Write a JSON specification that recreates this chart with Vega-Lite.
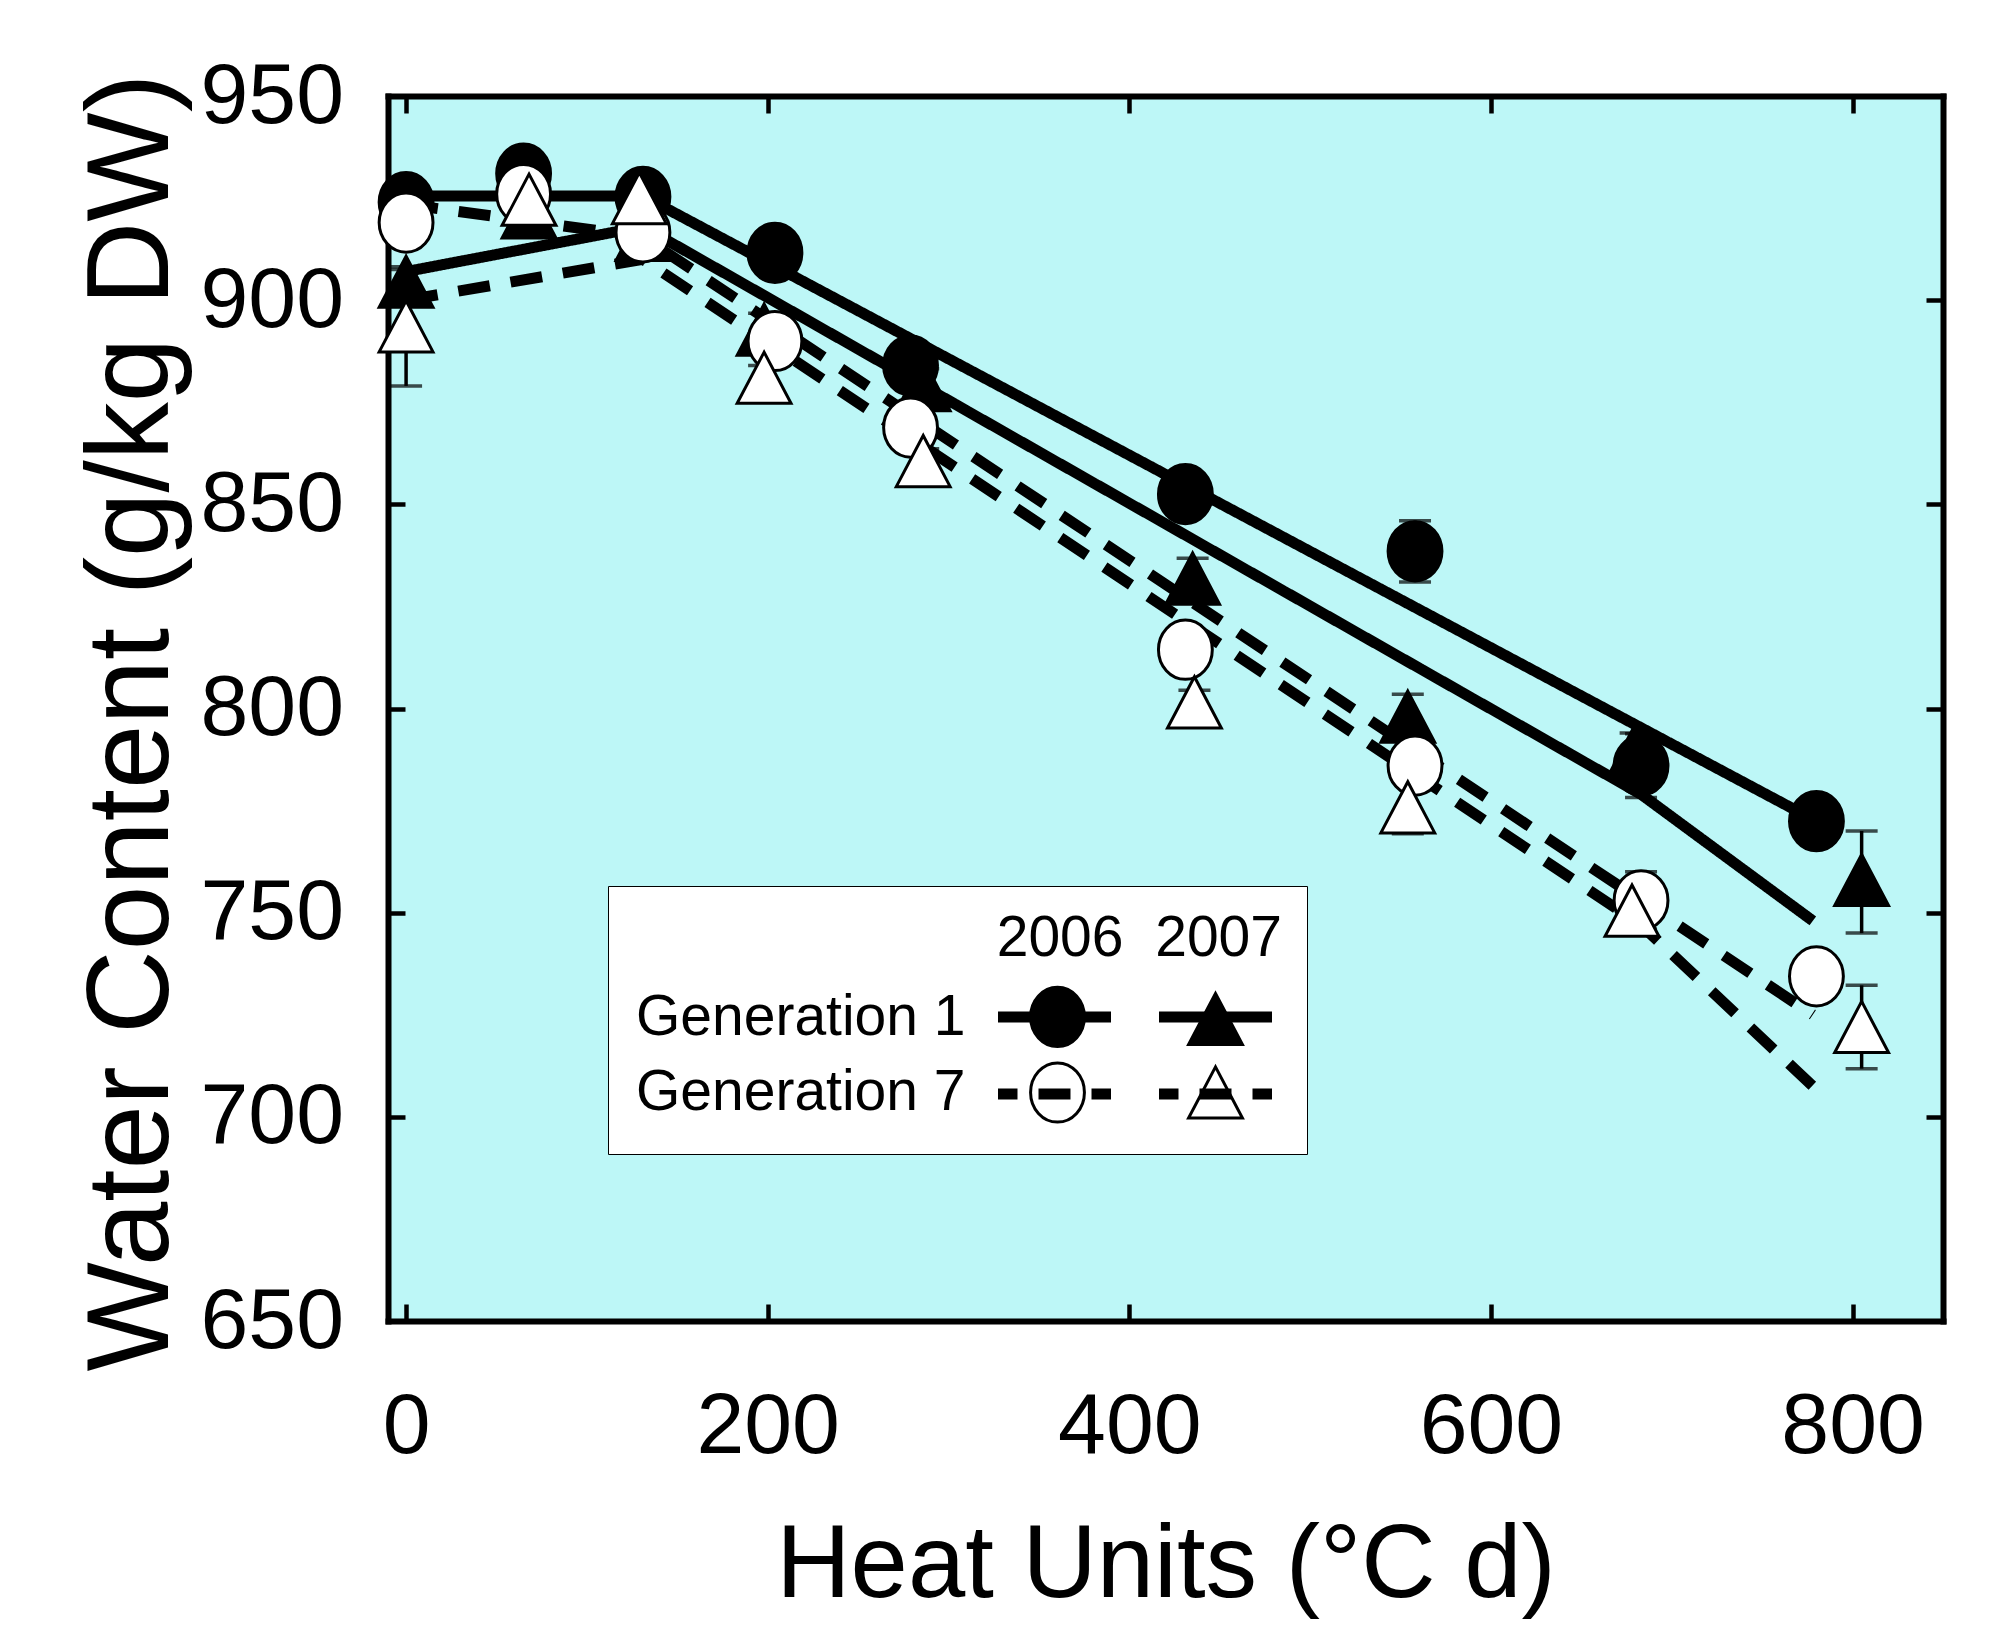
{
  "$schema": "https://vega.github.io/schema/vega-lite/v6.json",
  "width": 1555,
  "height": 1225,
  "autosize": {"type": "none"},
  "padding": {"left": 388, "top": 96, "right": 51, "bottom": 311},
  "background": "white",
  "datasets": {
    "pts": [
      {"series": "G1 2006", "x": 0, "y": 924, "lo": 921, "hi": 927},
      {"series": "G1 2006", "x": 65, "y": 931, "lo": 928, "hi": 934},
      {"series": "G1 2006", "x": 131, "y": 925.3, "lo": 922.3, "hi": 928.3},
      {"series": "G1 2006", "x": 204, "y": 911.6, "lo": 908.6, "hi": 914.6},
      {"series": "G1 2006", "x": 279, "y": 884, "lo": 881, "hi": 887},
      {"series": "G1 2006", "x": 431, "y": 852.5, "lo": 849.5, "hi": 855.5},
      {"series": "G1 2006", "x": 558, "y": 838.5, "lo": 831, "hi": 846},
      {"series": "G1 2006", "x": 683, "y": 786, "lo": 778.2, "hi": 793.8},
      {"series": "G1 2006", "x": 780, "y": 772.4, "lo": 769.4, "hi": 775.4},
      {"series": "G1 2007", "x": 0, "y": 904.5, "lo": 901.5, "hi": 907.5},
      {"series": "G1 2007", "x": 68, "y": 921.5, "lo": 918.5, "hi": 924.5},
      {"series": "G1 2007", "x": 131, "y": 916, "lo": 913, "hi": 919},
      {"series": "G1 2007", "x": 198, "y": 892.8, "lo": 888.8, "hi": 896.8},
      {"series": "G1 2007", "x": 286, "y": 879.2, "lo": 875.2, "hi": 883.2},
      {"series": "G1 2007", "x": 435, "y": 831.8, "lo": 826.8, "hi": 836.8},
      {"series": "G1 2007", "x": 554, "y": 798, "lo": 792.5, "hi": 803.5},
      {"series": "G1 2007", "x": 680, "y": 790, "lo": 786, "hi": 794},
      {"series": "G1 2007", "x": 805, "y": 758, "lo": 745, "hi": 770},
      {"series": "G7 2006", "x": 0, "y": 919, "lo": 916, "hi": 922},
      {"series": "G7 2006", "x": 65, "y": 926, "lo": 923, "hi": 929},
      {"series": "G7 2006", "x": 131, "y": 916.6, "lo": 913.6, "hi": 919.6},
      {"series": "G7 2006", "x": 204, "y": 890, "lo": 887, "hi": 893},
      {"series": "G7 2006", "x": 279, "y": 868.8, "lo": 865.8, "hi": 871.8},
      {"series": "G7 2006", "x": 431, "y": 814.4, "lo": 811.4, "hi": 817.4},
      {"series": "G7 2006", "x": 558, "y": 786, "lo": 783, "hi": 789},
      {"series": "G7 2006", "x": 683, "y": 753, "lo": 746, "hi": 760},
      {"series": "G7 2006", "x": 780, "y": 734.4, "lo": 731.4, "hi": 737.4},
      {"series": "G7 2007", "x": 0, "y": 893.6, "lo": 879, "hi": 908.2},
      {"series": "G7 2007", "x": 68, "y": 924.6, "lo": 921.6, "hi": 927.6},
      {"series": "G7 2007", "x": 129, "y": 925, "lo": 922, "hi": 928},
      {"series": "G7 2007", "x": 198, "y": 881, "lo": 878, "hi": 884},
      {"series": "G7 2007", "x": 286, "y": 860.6, "lo": 857.6, "hi": 863.6},
      {"series": "G7 2007", "x": 436, "y": 801.5, "lo": 798.5, "hi": 804.5},
      {"series": "G7 2007", "x": 554, "y": 775.8, "lo": 769.3, "hi": 782.3},
      {"series": "G7 2007", "x": 678, "y": 750.5, "lo": 747.5, "hi": 753.5},
      {"series": "G7 2007", "x": 805, "y": 722, "lo": 711.8, "hi": 732.2}
    ],
    "fit": [
      {"series": "G1 2006", "x": 0, "y": 925.5},
      {"series": "G1 2006", "x": 131, "y": 925.5},
      {"series": "G1 2006", "x": 780, "y": 772.4},
      {"series": "G1 2007", "x": 0, "y": 907},
      {"series": "G1 2007", "x": 131, "y": 918},
      {"series": "G1 2007", "x": 683, "y": 779},
      {"series": "G1 2007", "x": 778, "y": 748},
      {"series": "G7 2006", "x": 0, "y": 923.5},
      {"series": "G7 2006", "x": 131, "y": 915.5},
      {"series": "G7 2006", "x": 778, "y": 725},
      {"series": "G7 2007", "x": 0, "y": 900},
      {"series": "G7 2007", "x": 131, "y": 910},
      {"series": "G7 2007", "x": 683, "y": 747},
      {"series": "G7 2007", "x": 778, "y": 707.5}
    ]
  },
  "layer": [
    {
      "data": {"name": "pts"},
      "mark": {"type": "errorbar", "color": "black", "thickness": 3.5, "ticks": {"size": 32, "thickness": 3.5, "color": "black"}},
      "encoding": {
        "x": {"field": "x", "type": "quantitative", "scale": {"domain": [-10, 850], "nice": false, "zero": false}, "axis": null},
        "y": {"field": "lo", "type": "quantitative", "scale": {"domain": [650, 950], "nice": false, "zero": false}, "axis": null},
        "y2": {"field": "hi"}
      }
    },
    {
      "data": {"name": "fit"},
      "mark": {"type": "line", "color": "black", "strokeWidth": 11, "strokeCap": "butt", "clip": true},
      "encoding": {
        "x": {"field": "x", "type": "quantitative", "scale": {"domain": [-10, 850], "nice": false, "zero": false},
              "axis": {"orient": "top", "labels": false, "title": null, "values": [0, 200, 400, 600, 800]}},
        "y": {"field": "y", "type": "quantitative", "scale": {"domain": [650, 950], "nice": false, "zero": false},
              "axis": {"orient": "right", "labels": false, "title": null, "values": [650, 700, 750, 800, 850, 900, 950]}},
        "strokeDash": {"field": "series", "type": "nominal",
                       "scale": {"domain": ["G1 2006", "G1 2007", "G7 2006", "G7 2007"], "range": [[1, 0], [1, 0], [32, 21], [32, 21]]},
                       "legend": {
                         "title": null,
                         "orient": "none",
                         "legendX": 604.5,
                         "legendY": 911,
                         "direction": "horizontal",
                         "columns": 2,
                         "columnPadding": 37,
                         "rowPadding": 57,
                         "clipHeight": 20,
                         "padding": 0,
                         "fillColor": "transparent",
                         "strokeColor": "transparent",
                         "labelExpr": "''",
                         "labelFontSize": 1,
                         "labelOffset": 0,
                         "symbolType": "stroke",
                         "symbolSize": 12769,
                         "symbolStrokeWidth": 11,
                         "symbolStrokeColor": "black",
                         "symbolDashOffset": 12.5,
                         "zindex": 2
                       }}
      }
    },
    {
      "data": {"name": "pts"},
      "mark": {"type": "point", "filled": true, "size": 2900, "stroke": "black", "strokeWidth": 3, "opacity": 1},
      "encoding": {
        "x": {"field": "x", "type": "quantitative", "scale": {"domain": [-10, 850], "nice": false, "zero": false},
              "axis": {"orient": "bottom", "values": [0, 200, 400, 600, 800], "title": "Heat Units (°C d)"}},
        "y": {"field": "y", "type": "quantitative", "scale": {"domain": [650, 950], "nice": false, "zero": false},
              "axis": {"orient": "left", "values": [650, 700, 750, 800, 850, 900, 950], "title": "Water Content (g/kg DW)", "titleY": 626}},
        "shape": {"field": "series", "type": "nominal", "title": "2006\u00a0\u00a02007",
                  "scale": {"domain": ["Generation 1", "G1 2006", "G1 2007", "Generation 7", "G7 2006", "G7 2007"],
                            "range": ["circle", "M1,0A1,1.1 0 1,1 -1,0A1,1.1 0 1,1 1,0Z", "M0,-0.95L1,0.95L-1,0.95Z", "circle", "M1,0A1,1.1 0 1,1 -1,0A1,1.1 0 1,1 1,0Z", "M0,-0.95L1,0.95L-1,0.95Z"]},
                  "legend": {
                    "direction": "horizontal",
                    "columns": 3,
                    "columnPadding": 58,
                    "rowPadding": 3,
                    "padding": 25,
                    "titlePadding": 20,
                    "labelOffset": -54,
                    "labelExpr": "(datum.value == 'Generation 1' || datum.value == 'Generation 7') ? datum.value : '00s'",
                    "encode": {
                      "symbols": {"update": {
                        "stroke": {"signal": "(datum.value == 'Generation 1' || datum.value == 'Generation 7') ? 'transparent' : 'black'"},
                        "strokeWidth": {"value": 3}
                      }},
                      "labels": {"update": {
                        "fill": {"signal": "(datum.value == 'Generation 1' || datum.value == 'Generation 7') ? 'black' : 'transparent'"}
                      }}
                    }
                  }},
        "fill": {"field": "series", "type": "nominal", "title": "2006\u00a0\u00a02007",
                 "scale": {"domain": ["Generation 1", "G1 2006", "G1 2007", "Generation 7", "G7 2006", "G7 2007"],
                           "range": ["transparent", "black", "black", "transparent", "white", "white"]},
                 "legend": {
                    "direction": "horizontal",
                    "columns": 3,
                    "columnPadding": 58,
                    "rowPadding": 3,
                    "padding": 25,
                    "titlePadding": 20,
                    "labelOffset": -54,
                    "labelExpr": "(datum.value == 'Generation 1' || datum.value == 'Generation 7') ? datum.value : '00s'",
                    "encode": {
                      "symbols": {"update": {
                        "stroke": {"signal": "(datum.value == 'Generation 1' || datum.value == 'Generation 7') ? 'transparent' : 'black'"},
                        "strokeWidth": {"value": 3}
                      }},
                      "labels": {"update": {
                        "fill": {"signal": "(datum.value == 'Generation 1' || datum.value == 'Generation 7') ? 'black' : 'transparent'"}
                      }}
                    }
                 }}
      }
    }
  ],
  "resolve": {"axis": {"x": "independent", "y": "independent"}},
  "config": {
    "view": {"fill": "#bdf7f7", "stroke": null},
    "font": "Liberation Sans",
    "axis": {
      "grid": false,
      "domainColor": "black",
      "domainWidth": 6,
      "domainCap": "square",
      "tickColor": "black",
      "tickWidth": 4.5,
      "tickSize": -17,
      "labelFont": "Liberation Sans",
      "labelFontSize": 86,
      "labelColor": "black",
      "titleFont": "Liberation Sans",
      "titleFontWeight": "normal",
      "titleColor": "black"
    },
    "axisX": {"labelPadding": 80, "titleFontSize": 103, "titlePadding": 46, "labelFlush": false},
    "axisY": {"labelPadding": 61.5, "titleFontSize": 116, "titlePadding": 9, "labelFlush": false, "labelBaseline": "middle"},
    "legend": {
      "orient": "none",
      "legendX": 220,
      "legendY": 790,
      "padding": 25,
      "fillColor": "white",
      "strokeColor": "black",
      "symbolSize": 2900,
      "symbolStrokeColor": "black",
      "symbolStrokeWidth": 3,
      "symbolOpacity": 1,
      "labelFont": "Liberation Sans",
      "labelFontSize": 57,
      "labelColor": "black",
      "labelLimit": 1000,
      "titleFont": "Liberation Sans",
      "titleFontSize": 57,
      "titleFontWeight": "normal",
      "titleColor": "black",
      "titleAnchor": "end",
      "titleLimit": 1000
    }
  }
}
